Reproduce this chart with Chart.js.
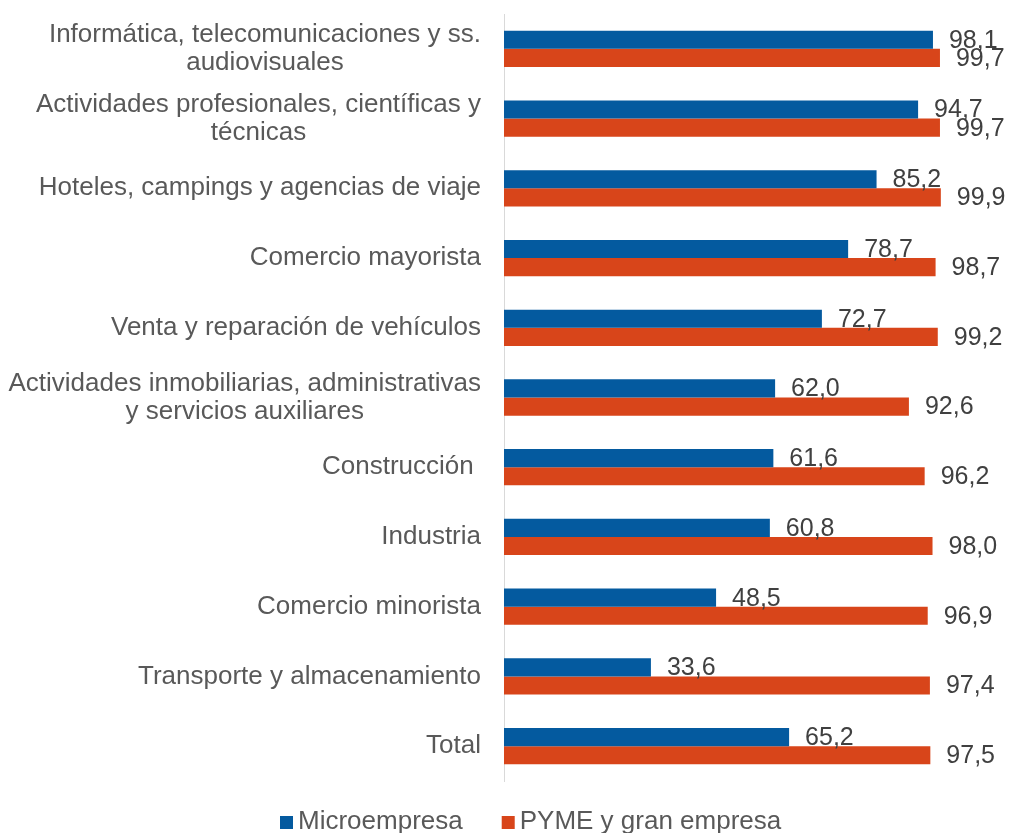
<!DOCTYPE html>
<html lang="es">
<head>
<meta charset="utf-8">
<title>Microempresa vs PYME y gran empresa</title>
<script src="https://cdn.jsdelivr.net/npm/chart.js@4.4.1/dist/chart.umd.min.js"></script>
<style>
    html, body { margin: 0; padding: 0; background: #ffffff; }
    canvas { display: block; }
</style>
</head>
<body>
<canvas id="grafico" width="1010" height="833"></canvas>
<script>
// ── Datos ────────────────────────────────────────────────────────
const categorias = [
    ['Informática, telecomunicaciones y ss.', 'audiovisuales'],
    ['Actividades profesionales, científicas y', 'técnicas'],
    'Hoteles, campings y agencias de viaje',
    'Comercio mayorista',
    'Venta y reparación de vehículos',
    ['Actividades inmobiliarias, administrativas', 'y servicios auxiliares'],
    'Construcción ',
    'Industria',
    'Comercio minorista',
    'Transporte y almacenamiento',
    'Total'
];
const microempresa = [98.1, 94.7, 85.2, 78.7, 72.7, 62.0, 61.6, 60.8, 48.5, 33.6, 65.2];
const pymeGran     = [99.7, 99.7, 99.9, 98.7, 99.2, 92.6, 96.2, 98.0, 96.9, 97.4, 97.5];
const nombresSeries = ['Microempresa', 'PYME y gran empresa'];
const coloresSeries = ['#045a9f', '#d8451a'];

const FUENTE = '"Liberation Sans", Arial, sans-serif';

// ── Etiquetas de categoría, valores y leyenda ────────────────────
const etiquetasPlugin = {
    id: 'etiquetas',
    afterDatasetsDraw(chart) {
        const ctx = chart.ctx;
        const area = chart.chartArea;
        ctx.save();

        // valores al final de cada barra
        ctx.font = '25px ' + FUENTE;
        ctx.fillStyle = '#404040';
        ctx.textAlign = 'left';
        ctx.textBaseline = 'middle';
        chart.data.datasets.forEach((ds, i) => {
            chart.getDatasetMeta(i).data.forEach((bar, j) => {
                ctx.fillText(ds.data[j].toFixed(1).replace('.', ','), bar.x + 16, bar.y + 1);
            });
        });

        // categorías (líneas centradas, bloque alineado a la derecha)
        const escalaY = chart.scales.y;
        ctx.font = '26px ' + FUENTE;
        ctx.fillStyle = '#595959';
        ctx.textAlign = 'center';
        const borde = area.left - 23;
        chart.data.labels.forEach((lab, j) => {
            const lineas = Array.isArray(lab) ? lab : [lab];
            const ancho = Math.max(...lineas.map(l => ctx.measureText(l).width));
            const cx = borde - ancho / 2;
            const cy = escalaY.getPixelForTick(j);
            lineas.forEach((l, k) => {
                ctx.fillText(l, cx, cy + (k - (lineas.length - 1) / 2) * 28);
            });
        });

        // leyenda
        ctx.font = '26px ' + FUENTE;
        ctx.textAlign = 'left';
        const yLeyenda = 822;
        let x = 280;
        chart.data.datasets.forEach(ds => {
            ctx.fillStyle = ds.backgroundColor;
            ctx.fillRect(x, yLeyenda - 6, 13, 13);
            ctx.fillStyle = '#595959';
            ctx.fillText(ds.label, x + 18, yLeyenda);
            x += 18 + ctx.measureText(ds.label).width + 39;
        });

        ctx.restore();
    }
};

new Chart(document.getElementById('grafico').getContext('2d'), {
    type: 'bar',
    data: {
        labels: categorias,
        datasets: [
            { label: nombresSeries[0], data: microempresa, backgroundColor: coloresSeries[0] },
            { label: nombresSeries[1], data: pymeGran,     backgroundColor: coloresSeries[1] }
        ]
    },
    options: {
        indexAxis: 'y',
        responsive: false,
        animation: false,
        barPercentage: 1,
        categoryPercentage: 0.52,
        layout: { padding: { top: 14, right: 25, bottom: 52, left: 0 } },
        plugins: {
            legend: { display: false },
            tooltip: { enabled: false }
        },
        scales: {
            x: { display: false, min: 0, max: 110 },
            y: {
                grid: { display: false },
                ticks: { display: false },
                border: { display: true, color: '#d9d9d9', width: 1 },
                afterFit: s => { s.width = 504; }
            }
        }
    },
    plugins: [etiquetasPlugin]
});
</script>
</body>
</html>
